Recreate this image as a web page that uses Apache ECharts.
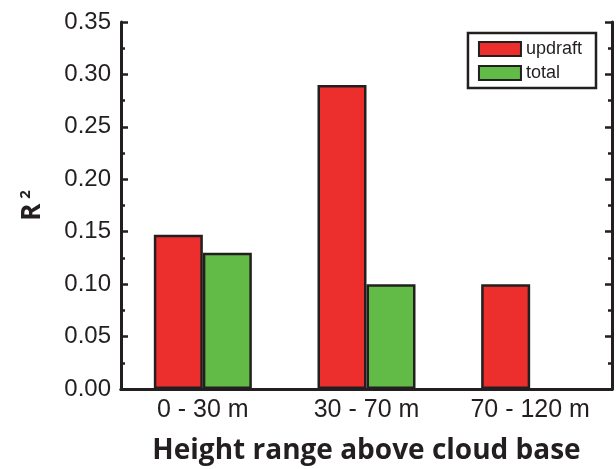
<!DOCTYPE html>
<html><head><meta charset="utf-8">
<script src="https://cdn.jsdelivr.net/npm/echarts@6/dist/echarts.min.js"></script>
<style>html,body{margin:0;padding:0;background:#fff}#c{width:616px;height:469px}</style>
</head><body><div id="c"></div>
<script>
var categories = ['0 - 30 m', '30 - 70 m', '70 - 120 m'];
var updraft = [0.147, 0.290, 0.100];
var total = [0.130, 0.100, null];
var seriesNames = ['updraft', 'total'];

var chart = echarts.init(document.getElementById('c'));
var font = 'Liberation Sans, Arial, sans-serif';
var ink = '#231f20';
chart.setOption({
  animation: false,
  grid: {left: 121, right: 4, top: 22, bottom: 80, containLabel: false, outerBoundsMode: 'none'},
  legend: {
    data: seriesNames, orient: 'vertical', right: 20, top: 33,
    borderColor: ink, borderWidth: 2.5, padding: [7, 14, 6, 10],
    itemWidth: 42, itemHeight: 14, itemGap: 6,
    textStyle: {fontFamily: font, fontSize: 18, color: ink},
    icon: 'rect'
  },
  xAxis: [{
    type: 'category', data: categories, position: 'bottom',
    axisLine: {lineStyle: {color: ink, width: 3}},
    axisTick: {show: false},
    axisLabel: {fontFamily: font, fontSize: 25, color: ink, margin: 9},
    name: 'Height range above cloud base', nameLocation: 'middle', nameGap: 48,
    nameTextStyle: {fontFamily: 'Open Sans, sans-serif', fontWeight: 'bold', fontSize: 28, color: ink}
  }, {
    type: 'category', data: categories, position: 'top',
    axisLine: {lineStyle: {color: ink, width: 3}},
    axisTick: {show: false}, axisLabel: {show: false}
  }],
  yAxis: [{
    type: 'value', min: 0, max: 0.35, interval: 0.05, position: 'left',
    axisLine: {show: true, lineStyle: {color: ink, width: 3}},
    axisTick: {show: true, inside: true, length: 7, lineStyle: {color: ink, width: 2.5}},
    minorTick: {show: true, splitNumber: 2, length: 4, lineStyle: {color: ink, width: 2.5}},
    splitLine: {show: false},
    axisLabel: {fontFamily: font, fontSize: 24, color: ink, margin: 10,
      formatter: function (v) { return v.toFixed(2); }},
    name: 'R{sup|2}', nameLocation: 'middle', nameGap: 74, nameRotate: 90,
    nameTextStyle: {fontFamily: 'Open Sans, sans-serif', fontWeight: 'bold', fontSize: 26, color: ink,
      rich: {sup: {fontFamily: 'Open Sans, sans-serif', fontWeight: 'bold', fontSize: 15, color: ink, verticalAlign: 'top', padding: [0, 0, 14, 5]}}}
  }, {
    type: 'value', min: 0, max: 0.35, interval: 0.05, position: 'right',
    axisLine: {show: true, lineStyle: {color: ink, width: 3}},
    axisTick: {show: true, inside: true, length: 7, lineStyle: {color: ink, width: 2.5}},
    minorTick: {show: true, splitNumber: 2, length: 4, lineStyle: {color: ink, width: 2.5}},
    splitLine: {show: false}, axisLabel: {show: false}
  }],
  series: [{
    name: seriesNames[0], type: 'bar', data: updraft, barWidth: 49, barGap: '0%',
    itemStyle: {color: '#ec2f2d', borderColor: ink, borderWidth: 2.5}
  }, {
    name: seriesNames[1], type: 'bar', data: total, barWidth: 49, barGap: '0%',
    itemStyle: {color: '#62bb46', borderColor: ink, borderWidth: 2.5}
  }]
});
</script></body></html>
